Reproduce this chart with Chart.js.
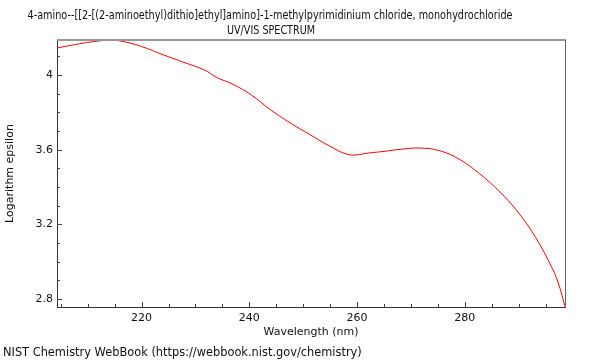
<!DOCTYPE html>
<html>
<head>
<meta charset="utf-8">
<title>UV/VIS spectrum</title>
<script src="https://cdn.jsdelivr.net/npm/chart.js@4/dist/chart.umd.min.js"></script>
<style>
  html, body { margin: 0; padding: 0; background: #fff; }
  #chart { display: block; }
</style>
</head>
<body>
<canvas id="chart" width="600" height="360"></canvas>
<script>
// values
const wavelengths = [204.3, 207, 210, 213.5, 216, 220, 224, 227.6, 231.7, 233.9, 237, 240.4, 243.8, 247.5, 251.2,
    254.9, 258.6, 262.3, 265, 268, 271.6, 275.3, 279.1, 282.8, 286.5, 289.6, 292.7, 295.8, 297.3, 298.6];
const logEpsilon = [4.145, 4.160, 4.175, 4.186, 4.183, 4.153, 4.109, 4.071, 4.027, 3.988, 3.950, 3.893, 3.817, 3.745, 3.682,
    3.620, 3.573, 3.583, 3.591, 3.602, 3.609, 3.595, 3.547, 3.470, 3.374, 3.275, 3.151, 2.990, 2.890, 2.760];

const xTicks = [220, 240, 260, 280];
const xMinorTicks = [205, 210, 215, 225, 230, 235, 245, 250, 255, 265, 270, 275, 285, 290, 295];
const yTicks = [2.8, 3.2, 3.6, 4];
const yMinorTicks = [2.9, 3.0, 3.1, 3.3, 3.4, 3.5, 3.7, 3.8, 3.9, 4.1];

const titleLines = ['4-amino--[[2-[(2-aminoethyl)dithio]ethyl]amino]-1-methylpyrimidinium chloride, monohydrochloride', 'UV/VIS SPECTRUM'];
const footerText = 'NIST Chemistry WebBook (https://webbook.nist.gov/chemistry)';

const FONT = "'DejaVu Sans', sans-serif";
Chart.defaults.font.family = FONT;
Chart.defaults.color = '#111';

// title, footer, top/right frame and inward ticks
const nistFrame = {
    id: 'nistFrame',
    afterDraw(chart) {
        const { ctx, chartArea: a, scales: { x, y } } = chart;
        ctx.save();

        ctx.strokeStyle = '#999';
        ctx.lineWidth = 2;
        ctx.beginPath();
        ctx.moveTo(a.left, a.top);
        ctx.lineTo(a.right + 1, a.top);
        ctx.stroke();

        ctx.strokeStyle = '#666';
        ctx.lineWidth = 1;
        ctx.beginPath();
        ctx.moveTo(a.right + 0.5, a.top);
        ctx.lineTo(a.right + 0.5, a.bottom);
        ctx.stroke();

        ctx.strokeStyle = '#444';
        ctx.beginPath();
        const xTick = (v, len) => {
            const px = Math.round(x.getPixelForValue(v)) + 0.5;
            ctx.moveTo(px, a.bottom);
            ctx.lineTo(px, a.bottom - len);
        };
        const yTick = (v, len) => {
            const py = Math.round(y.getPixelForValue(v)) + 0.5;
            ctx.moveTo(a.left, py);
            ctx.lineTo(a.left + len, py);
        };
        xTicks.forEach(v => xTick(v, 5));
        xMinorTicks.forEach(v => xTick(v, 3));
        yTicks.forEach(v => yTick(v, 5));
        yMinorTicks.forEach(v => yTick(v, 3));
        ctx.stroke();

        ctx.fillStyle = '#111';
        ctx.textAlign = 'center';
        ctx.textBaseline = 'alphabetic';
        ctx.font = '12px ' + FONT;
        ctx.fillText(titleLines[0], 270, 18.5, 485);
        ctx.fillText(titleLines[1], 271, 33.5, 88);

        ctx.textAlign = 'left';
        ctx.font = '11.4px ' + FONT;
        ctx.fillText(footerText, 3, 356);
        ctx.restore();
    }
};

new Chart(document.getElementById('chart'), {
    type: 'line',
    data: {
        datasets: [{
            data: wavelengths.map((w, i) => ({ x: w, y: logEpsilon[i] })),
            borderColor: '#ff0000',
            borderWidth: 1,
            pointRadius: 0,
            tension: 0.4,
            fill: false
        }]
    },
    options: {
        responsive: false,
        animation: false,
        layout: { padding: { top: 40, right: 35, bottom: 18, left: 0 } },
        plugins: {
            legend: { display: false },
            tooltip: { enabled: false },
            title: { display: false }
        },
        scales: {
            x: {
                type: 'linear',
                min: 204.3,
                max: 298.6,
                afterBuildTicks: s => { s.ticks = xTicks.map(v => ({ value: v })); },
                afterFit: s => { s.height = 35; },
                grid: { display: false, drawTicks: false },
                border: { display: true, color: '#333', width: 1 },
                ticks: { padding: 5, font: { size: 11 }, color: '#111', maxRotation: 0 },
                title: { display: true, text: 'Wavelength (nm)', font: { size: 11 }, color: '#111', padding: { top: 0, bottom: 3 } }
            },
            y: {
                min: 2.757,
                max: 4.188,
                afterBuildTicks: s => { s.ticks = yTicks.map(v => ({ value: v })); },
                afterFit: s => { s.width = 57; },
                grid: { display: false, drawTicks: false },
                border: { display: true, color: '#333', width: 1 },
                ticks: { padding: 4, font: { size: 11 }, color: '#111', callback: v => String(+v.toFixed(1)) },
                title: { display: true, text: 'Logarithm epsilon', font: { size: 11 }, color: '#111', padding: { top: 4, bottom: 0 } }
            }
        }
    },
    plugins: [nistFrame]
});
</script>
</body>
</html>
